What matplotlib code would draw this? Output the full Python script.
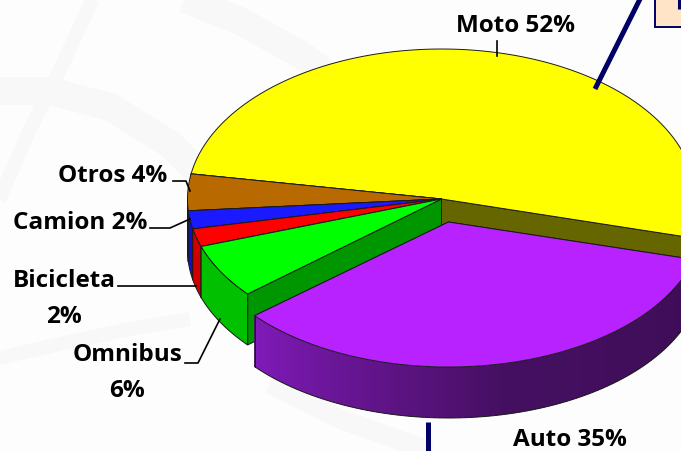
import numpy as np
import matplotlib
matplotlib.use("Agg")
import matplotlib.pyplot as plt
from matplotlib.patches import Polygon, Rectangle

categories = ["Moto", "Otros", "Camion", "Bicicleta", "Omnibus", "Auto"]
values = [52, 4, 2, 2, 6, 35]
top_colors = ["#ffff00", "#b86a00", "#1a1aff", "#ff0000", "#00ff00", "#b822ff"]
wall_colors = ["#666600", "#8a5000", "#1010c8", "#d00000", "#00c000", "#4a1060"]
inner_colors = ["#666600", "#8a5000", "#1010a0", "#a00000", "#009600", "#4a1060"]
label_text = ["Moto 52%", "Otros 4%", "Camion 2%", "Bicicleta\n2%", "Omnibus\n6%", "Auto 35%"]

plt.rcParams["font.family"] = ["Open Sans", "DejaVu Sans"]
fig = plt.figure(figsize=(6.81, 4.52), dpi=100, facecolor="#fdfdfd")
ax = fig.add_axes([0, 0, 1, 1])
ax.set_xlim(0, 681)
ax.set_ylim(452, 0)
ax.axis("off")

# faint background bands
BAND = "#f8f8f8"
def band(x, y, w):
    ax.plot(x, y, color=BAND, lw=w, solid_capstyle="butt", zorder=0)
band([95, 65, 30, -5], [-5, 60, 130, 210], 10)
band([-5, 50, 110, 170, 220], [92, 92, 108, 145, 195], 20)
band([165, 240, 300, 340], [-8, 22, 55, 85], 20)
band([-5, 60, 130, 190], [360, 345, 330, 320], 10)
band([270, 340, 430], [385, 420, 452], 14)

CX, CY, RX, RY, RY_BACK, DEPTH = 441.5, 200.0, 254.0, 147.0, 150.0, 51.0
START = -15.0
EDGE = "#1a1a1a"
fractions = np.array(values, float) / sum(values)
spans = fractions * 360.0
starts = START + np.concatenate([[0], np.cumsum(spans)[:-1]])
offsets = {"Auto": (7, 23)}
radii_y = {"Auto": 145.0}

def rim(t0, t1, cx, cy, ry, n=80):
    t = np.radians(np.linspace(t0, t1, n))
    s = np.sin(t)
    r = np.where(s > 0, ry + (RY_BACK - RY), ry)
    return cx + RX * np.cos(t), cy - r * s

def quad(xs, ys, depth=DEPTH, **kw):
    pts = np.r_[np.c_[xs, ys], np.c_[xs[::-1], ys[::-1] + depth]]
    ax.add_patch(Polygon(pts, closed=True, **kw))

def draw_slice(i, z):
    name = categories[i]
    t0, t1 = starts[i], starts[i] + spans[i]
    ox, oy = offsets.get(name, (0, 0))
    cx, cy = CX + ox, CY + oy
    ry = radii_y.get(name, RY)
    # flat side walls
    for t in (t0, t1):
        rx_, ry_ = rim(t, t, cx, cy, ry, 1)
        quad(np.array([cx, rx_[0]]), np.array([cy, ry_[0]]),
             fc=inner_colors[i], ec=EDGE, lw=0.7, zorder=z)
    # outer wall
    a, b = max(t0, 180.0), min(t1, 360.0)
    if b > a:
        if name == "Auto":
            steps = np.linspace(a, b, 90)
            c0, c1, c2 = np.array([0.50, 0.10, 0.72]), np.array([0.27, 0.06, 0.38]), np.array([0.24, 0.05, 0.34])
            for k in range(89):
                xs, ys = rim(steps[k], min(steps[k + 1] + 0.6, b), cx, cy, ry, 4)
                f = k / 88
                col = c0 + (c1 - c0) * min(f / 0.5, 1) + (c2 - c1) * max((f - 0.5) / 0.5, 0)
                quad(xs, ys, fc=col, ec="none", lw=0, zorder=z + 0.1)
            xs, ys = rim(a, b, cx, cy, ry)
            ax.plot(xs, ys + DEPTH, color=EDGE, lw=0.7, zorder=z + 0.2)
            ax.plot([xs[0], xs[0]], [ys[0], ys[0] + DEPTH], color=EDGE, lw=0.7, zorder=z + 0.2)
        else:
            xs, ys = rim(a, b, cx, cy, ry)
            quad(xs, ys, fc=wall_colors[i], ec=EDGE, lw=0.7, zorder=z + 0.1)
    # top face
    xs, ys = rim(t0, t1, cx, cy, ry, 120)
    ax.add_patch(Polygon(np.r_[[[cx, cy]], np.c_[xs, ys]], closed=True,
                         fc=top_colors[i], ec=EDGE, lw=0.7, zorder=z + 0.3))

for z, i in enumerate(range(len(values))):
    draw_slice(i, 2 + z)

# labels
FS = 17.5
txt = dict(fontsize=FS, fontweight="bold", color="black", zorder=20, linespacing=1.62)
positions = {"Moto": (516, 26), "Auto": (570, 440), "Omnibus": (127, 373),
             "Bicicleta": (64, 299), "Camion": (80, 223), "Otros": (113, 176)}
for name, lab in zip(categories, label_text):
    x, y = positions[name]
    ax.text(x, y, lab, ha="center", va="center", **txt)

# leader lines
leaders = [
    ([497, 497], [42, 57]),
    ([173, 186, 190], [182, 182, 192]),
    ([150, 170, 190], [229, 229, 220]),
    ([118, 196], [287, 287]),
    ([185, 198, 220], [364, 364, 320]),
]
for x, y in leaders:
    ax.plot(x, y, color="black", lw=1.2, zorder=20)

# callout fragments
NAVY = "#000066"
ax.plot([641, 595], [-2, 90], color=NAVY, lw=3.6, zorder=21, solid_capstyle="butt")
ax.plot([428, 428], [423, 454], color=NAVY, lw=3.6, zorder=21, solid_capstyle="butt")
ax.add_patch(Rectangle((654.5, -3), 30, 31, fc="#ffe4c8", ec=NAVY, lw=1.4, zorder=21))
ax.plot([679, 679], [0, 10], color=NAVY, lw=2.2, zorder=22, solid_capstyle="butt")

fig.savefig("out.png", dpi=100, facecolor=fig.get_facecolor())
